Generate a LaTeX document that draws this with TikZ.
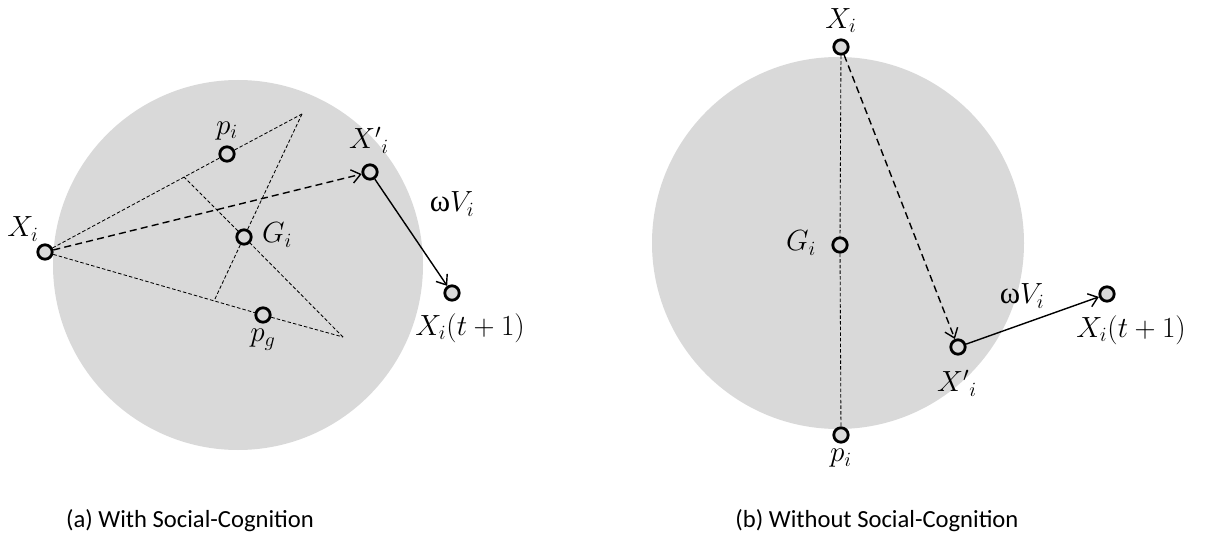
\documentclass[tikz,border=0pt]{standalone}
\usepackage{fontspec}
\newfontfamily\capfont{Carlito}
\newfontfamily\omfont{Liberation Serif}
\usetikzlibrary{arrows.meta,positioning}

\begin{document}
\begin{tikzpicture}[
  x=0.025cm, y=-0.025cm,
  font=\fontsize{22}{24}\selectfont,
  node distance=1mm,
  disk/.style={fill=black!15},
  pt/.style={circle,draw,line width=2pt,fill=black!15,minimum size=3.6mm,inner sep=0pt},
  lbl/.style={inner sep=1pt},
  subcap/.style={font=\capfont\fontsize{17.5}{20}\selectfont,anchor=base},
  aux/.style={line width=0.6pt,dash pattern=on 2.5pt off 1.5pt},
  move/.style={line width=1pt,dash pattern=on 5pt off 3pt,-{Straight Barb[length=2.2mm,width=3.4mm]}},
  vel/.style={line width=1pt,-{Straight Barb[length=2.2mm,width=3.4mm]}}
]
\useasboundingbox (0,0) rectangle (1225,545);

% (a) with social-cognition
\fill[disk] (238,265) circle[radius=185];
\node[pt] (Xa) at (45,252) {};
\node[pt] (pia) at (227,154) {};
\node[pt] (Ga) at (244,237) {};
\node[pt] (pga) at (263,315) {};
\node[pt] (Xpa) at (370,172) {};
\node[pt] (Xna) at (452,293) {};
\coordinate (Ta) at (302,114);
\coordinate (Ba) at (343,337);
\coordinate (Fa) at (184,177);
\coordinate (Fb) at (214,301);

\draw[aux] (Xa) -- (pia) -- (Ta);
\draw[aux] (Xa) -- (pga) -- (Ba);
\draw[aux] (Ta) -- (Ga) -- (Fb);
\draw[aux] (Ba) -- (Ga) -- (Fa);
\draw[move] (Xa) -- (Xpa);
\draw[vel] (Xpa) -- (Xna);

\node[lbl] (XaL) at (23,229) {$X_i$};
\node[lbl,above=of pia] (piaL) {$p_i$};
\node[lbl] (GaL) at (277,235) {$G_i$};
\node[lbl,below=of pga] (pgaL) {$p_g$};
\node[lbl] (XpaL) at (369,140) {${X'}_i$};
\node[lbl] (waL) at (452,204) {{\omfont ω}$V_i$};
\node[lbl] (XnaL) at (470,328) {$X_i(t+1)$};

% (b) without social-cognition
\fill[disk] (838,243) circle[radius=186];
\node[pt] (Xb) at (841,47) {};
\node[pt] (Gb) at (840,245) {};
\node[pt] (pib) at (841,435) {};
\node[pt] (Xpb) at (958,347) {};
\node[pt] (Xnb) at (1107,294) {};

\draw[aux] (Xb) -- (Gb) -- (pib);
\draw[move] (Xb) -- (Xpb);
\draw[vel] (Xpb) -- (Xnb);

\node[lbl,above=of Xb] (XbL) {$X_i$};
\node[lbl] (GbL) at (801,243) {$G_i$};
\node[lbl,below=of pib] (pibL) {$p_i$};
\node[lbl] (XpbL) at (957,383) {${X'}_i$};
\node[lbl] (wbL) at (1022,296) {{\omfont ω}$V_i$};
\node[lbl] (XnbL) at (1131,330) {$X_i(t+1)$};

\node[subcap] (capa) at (190,527) {(a) With Social-Cognition};
\node[subcap] (capb) at (877,527) {(b) Without Social-Cognition};
\end{tikzpicture}
\end{document}
